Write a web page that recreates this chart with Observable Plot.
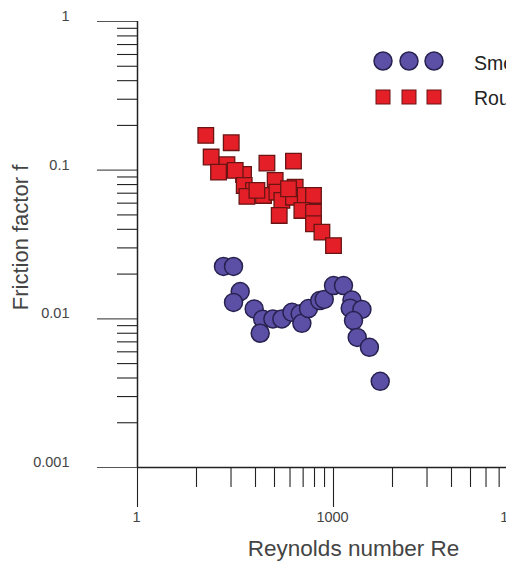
<!DOCTYPE html>
<html>
<head>
<meta charset="utf-8">
<script src="https://cdn.jsdelivr.net/npm/d3@7"></script>
<script src="https://cdn.jsdelivr.net/npm/@observablehq/plot@0.6"></script>
<style>
  html, body { margin: 0; padding: 0; background: #fff; overflow: hidden; }
  #wrap { position: relative; width: 506px; height: 569px; overflow: hidden; }
  #legend { position: absolute; left: 0; top: 0; }
</style>
</head>
<body>
<div id="wrap"></div>
<script>
// ---- Data ----
const smoothRe = [20.7, 29.5, 37.3, 29.5, 61.1, 82.5, 75.5, 118, 162, 231, 309, 328, 414, 615, 721, 1000, 1422, 1914, 1802, 2723, 2025, 2307, 3545, 5188];
const smoothF  = [0.0225, 0.0225, 0.01525, 0.0129, 0.01166, 0.00995, 0.0080, 0.00998, 0.00998, 0.01106, 0.0108, 0.00933, 0.01172, 0.01326, 0.0135, 0.01674, 0.01674, 0.01337, 0.0118, 0.01157, 0.00973, 0.0075, 0.00643, 0.0038];

const roughRe = [11.1, 27.2, 13.4, 95.7, 244, 23.4, 17.4, 42, 31.3, 128, 43, 59.7, 47.3, 84.9, 136, 259, 162, 244, 369, 494, 147.6, 328, 494, 494, 665, 1000, 67.2, 205];
const roughF  = [0.1714, 0.153, 0.1225, 0.1115, 0.115, 0.1088, 0.097, 0.0936, 0.0996, 0.0853, 0.0789, 0.0731, 0.0666, 0.0676, 0.0711, 0.0769, 0.0626, 0.0658, 0.0676, 0.0676, 0.0496, 0.0536, 0.0522, 0.0436, 0.0383, 0.0311, 0.0731, 0.075];

const seriesNames = ["Smooth", "Rough"];

// Tick values and labels
const xMajor = [1, 1000, 1000000];
const xMajorLabels = ["1", "1000", "1000000"];
const xMinor = [8, 27, 64, 125, 216, 343, 512, 729, 8000, 27000, 64000, 125000, 216000, 343000, 512000, 729000];
const yMajor = [0.001, 0.01, 0.1, 1];
const yMajorLabels = ["0.001", "0.01", "0.1", "1"];
const yMinor = [2, 3, 4, 5, 6, 7, 8, 9].flatMap(k => [k * 0.001, k * 0.01, k * 0.1]);

const xTitle = "Reynolds number Re";
const yTitle = "Friction factor f";

// ---- Tables ----
const smooth = smoothRe.map((re, i) => ({re, f: smoothF[i]}));
const rough = roughRe.map((re, i) => ({re, f: roughF[i]}));

const FONT = "'Liberation Sans', Arial, Helvetica, sans-serif";
const circleFill = "#5b50a6", circleStroke = "#27214f";
const squareFill = "#e51f27", squareStroke = "#6a1414";
const axisColor = "#222";
const textColor = "#444";

const chart = Plot.plot({
  width: 530,
  height: 569,
  marginLeft: 137,
  marginRight: 1,
  marginTop: 21,
  marginBottom: 102,
  style: {fontFamily: FONT, maxWidth: "none", overflow: "visible", background: "white"},
  x: {type: "log", domain: [1, 1000000], axis: null},
  y: {type: "log", domain: [0.001, 1], axis: null},
  marks: [
    // minor and major ticks
    Plot.axisX(xMinor, {anchor: "bottom", tickSize: 20, tickFormat: () => "", label: null, stroke: axisColor, strokeWidth: 1.1}),
    Plot.axisX(xMajor, {anchor: "bottom", tickSize: 40, tickFormat: () => "", label: null, stroke: axisColor, strokeWidth: 1.1}),
    Plot.axisY(yMinor, {anchor: "left", tickSize: 20, tickFormat: () => "", label: null, stroke: axisColor, strokeWidth: 1.1}),
    Plot.axisY(yMajor, {anchor: "left", tickSize: 40, tickFormat: () => "", label: null, stroke: "#555", strokeWidth: 1.1}),
    // axis lines
    Plot.ruleY([0.001], {stroke: axisColor, strokeWidth: 1.5}),
    Plot.ruleX([1], {stroke: axisColor, strokeWidth: 1.5}),
    // tick labels
    Plot.text(xMajor, {x: d => d, frameAnchor: "bottom", dx: -1, dy: 54, text: (d, i) => xMajorLabels[i], fill: textColor, fontSize: 14.5}),
    Plot.text(yMajor, {y: d => d, frameAnchor: "left", dx: -68, dy: -5, textAnchor: "end", text: (d, i) => yMajorLabels[i], fill: textColor, fontSize: 14.5}),
    // axis titles
    Plot.text([xTitle], {frameAnchor: "bottom", dx: 20, dy: 88, textAnchor: "middle", text: d => d, fill: textColor, fontSize: 22.5}),
    Plot.text([yTitle], {frameAnchor: "left", dx: -117, dy: -7, textAnchor: "middle", rotate: -90, text: d => d, fill: textColor, fontSize: 22}),
    // data
    Plot.dot(rough, {x: "re", y: "f", symbol: "square", r: 8.8, fill: squareFill, stroke: squareStroke, strokeWidth: 1.3}),
    Plot.dot(smooth, {x: "re", y: "f", r: 9, fill: circleFill, stroke: circleStroke, strokeWidth: 1.5})
  ]
});

const wrap = document.getElementById("wrap");
wrap.appendChild(chart);

// ---- Legend (overlay) ----
const legend = d3.select(wrap).append("svg")
  .attr("id", "legend").attr("width", 506).attr("height", 140)
  .style("font-family", FONT);
const lx = [383, 409, 434];
lx.forEach(x => {
  legend.append("circle").attr("cx", x).attr("cy", 61).attr("r", 9)
    .attr("fill", circleFill).attr("stroke", circleStroke).attr("stroke-width", 1.5);
  legend.append("rect").attr("x", x - 7).attr("y", 90).attr("width", 14).attr("height", 14)
    .attr("fill", squareFill).attr("stroke", squareStroke).attr("stroke-width", 1);
});
legend.append("text").attr("x", 474).attr("y", 70).attr("font-size", 19.5).attr("fill", "#222").text(seriesNames[0]);
legend.append("text").attr("x", 474).attr("y", 105).attr("font-size", 19.5).attr("fill", "#222").text(seriesNames[1]);
</script>
</body>
</html>
